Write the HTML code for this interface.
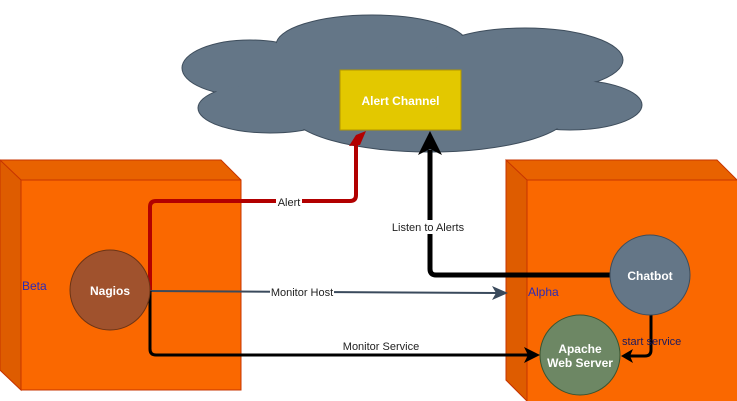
<!DOCTYPE html>
<html><head><meta charset="utf-8"><style>
html,body{margin:0;padding:0;background:#fff;}
svg{display:block;font-family:"Liberation Sans",Arial,sans-serif;}
</style></head><body>
<svg width="737" height="401" viewBox="0 0 737 401" xmlns="http://www.w3.org/2000/svg">
<!-- cloud -->
<g fill="#647687" stroke="#3e4d5c" stroke-width="1">
<ellipse cx="250" cy="68" rx="68" ry="28"/>
<ellipse cx="270" cy="108" rx="72" ry="25"/>
<ellipse cx="372" cy="45" rx="96" ry="30"/>
<ellipse cx="525" cy="60" rx="98" ry="32"/>
<ellipse cx="570" cy="105" rx="72" ry="25"/>
<ellipse cx="430" cy="112" rx="140" ry="40"/>
</g>
<g fill="#647687">
<ellipse cx="250" cy="68" rx="67" ry="27"/>
<ellipse cx="270" cy="108" rx="71" ry="24"/>
<ellipse cx="372" cy="45" rx="95" ry="29"/>
<ellipse cx="525" cy="60" rx="97" ry="31"/>
<ellipse cx="570" cy="105" rx="71" ry="24"/>
<ellipse cx="430" cy="112" rx="139" ry="39"/>
<rect x="250" y="50" width="330" height="75"/>
</g>
<rect x="340" y="70" width="121" height="60" fill="#e3c800" stroke="#b09500"/>
<text x="400.5" y="105" font-size="12" font-weight="bold" fill="#fff" text-anchor="middle">Alert Channel</text>

<!-- Beta box -->
<polygon points="0,160 221,160 241,180 241,390 21,390 0,370" fill="#e86200" stroke="#c73500"/>
<polygon points="0,160 21,180 21,390 0,370" fill="#de5c00" stroke="#c73500"/>
<rect x="21" y="180" width="220" height="210" fill="#fa6800" stroke="#c73500"/>
<text x="22" y="290" font-size="12" fill="#2a2ab8">Beta</text>

<!-- Alpha box -->
<polygon points="506,160 717,160 737,180 737,401 527,401 506,380" fill="#e86200" stroke="#c73500"/>
<polygon points="506,160 527,180 527,401 506,380" fill="#de5c00" stroke="#c73500"/>
<rect x="527" y="180" width="212" height="225" fill="#fa6800" stroke="#c73500"/>
<text x="528" y="296" font-size="12" fill="#2a2ab8">Alpha</text>

<!-- connectors -->
<path d="M150,291 V207 Q150,201 156,201 H350 Q356,201 356,195 V145" fill="none" stroke="#b20000" stroke-width="4"/>
<polygon points="349,146 356,135 366,131 360,145" fill="#b20000"/>
<path d="M150,291 L497,293" fill="none" stroke="#3a4a5c" stroke-width="2"/>
<polygon points="508,293 492,286 496,293 492,300" fill="#3a4a5c"/>
<path d="M150,291 V349 Q150,355 156,355 H530" fill="none" stroke="#000" stroke-width="3"/>
<polygon points="540,355 524,347 528,355 524,363" fill="#000"/>
<path d="M611,275 H436 Q430,275 430,269 V150" fill="none" stroke="#000" stroke-width="5"/>
<polygon points="430,131 418,155 430,149 442,155" fill="#000"/>
<path d="M651,315 V350 Q651,356 645,356 H630" fill="none" stroke="#000" stroke-width="3"/>
<polygon points="621,356 633,349 630,356 633,363" fill="#000"/>

<!-- labels -->
<rect x="276" y="195" width="26" height="13" fill="#fff"/>
<text x="289" y="206" font-size="11" fill="#222" text-anchor="middle">Alert</text>
<rect x="270" y="286" width="64" height="13" fill="#fff"/>
<text x="302" y="296" font-size="11" fill="#222" text-anchor="middle">Monitor Host</text>
<text x="381" y="350" font-size="11" fill="#222" text-anchor="middle">Monitor Service</text>
<rect x="390" y="220" width="76" height="14" fill="#fff"/>
<text x="428" y="231" font-size="11" fill="#222" text-anchor="middle">Listen to Alerts</text>
<text x="622" y="345" font-size="11" fill="#1a1a60">start service</text>

<!-- circles -->
<circle cx="110" cy="290" r="40" fill="#a0522d" stroke="#6d3414"/>
<text x="110" y="295" font-size="12" font-weight="bold" fill="#fff" text-anchor="middle">Nagios</text>
<circle cx="650" cy="275" r="40" fill="#647687" stroke="#3e4d5c"/>
<text x="650" y="280" font-size="12" font-weight="bold" fill="#fff" text-anchor="middle">Chatbot</text>
<circle cx="580" cy="355" r="40" fill="#6d8764" stroke="#3a5431"/>
<text x="580" y="353" font-size="12" font-weight="bold" fill="#fff" text-anchor="middle">Apache</text>
<text x="580" y="367" font-size="12" font-weight="bold" fill="#fff" text-anchor="middle">Web Server</text>
</svg>
</body></html>
